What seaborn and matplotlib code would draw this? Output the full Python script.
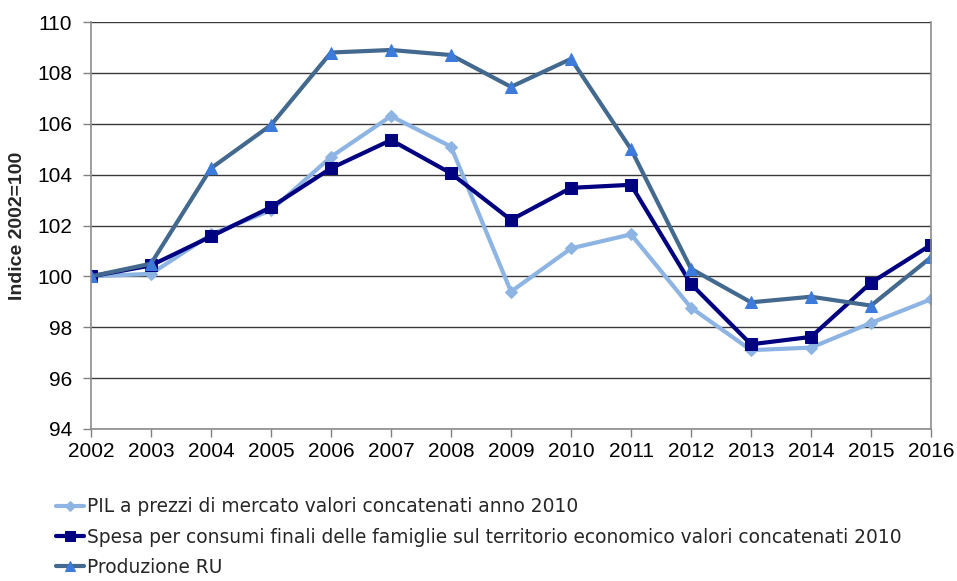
import matplotlib
matplotlib.use("Agg")
import matplotlib.pyplot as plt
import seaborn as sns
import pandas as pd

years = list(range(2002, 2017))
pil = [100.0, 100.1, 101.65, 102.6, 104.7, 106.3, 105.1, 99.4, 101.1, 101.65,
       98.77, 97.1, 97.2, 98.17, 99.1]
spesa = [100.0, 100.43, 101.57, 102.72, 104.25, 105.36, 104.05, 102.22, 103.48, 103.6,
         99.7, 97.33, 97.62, 99.75, 101.24]
produzione = [100.0, 100.5, 104.25, 105.95, 108.8, 108.9, 108.7, 107.45, 108.55, 105.0,
              100.3, 98.98, 99.2, 98.85, 100.75]

labels = [
    "PIL a prezzi di mercato valori concatenati anno 2010",
    "Spesa per consumi finali delle famiglie sul territorio economico valori concatenati 2010",
    "Produzione RU",
]

df = pd.DataFrame({
    "anno": years * 3,
    "valore": pil + spesa + produzione,
    "serie": [labels[0]] * 15 + [labels[1]] * 15 + [labels[2]] * 15,
})

sns.set_theme(style="white")
plt.rcParams["font.family"] = ["Liberation Sans", "DejaVu Sans"]

fig = plt.figure(figsize=(9.57, 5.81), dpi=100)
ax = fig.add_axes([91 / 957, 1 - 429 / 581, (931 - 91) / 957, (429 - 22) / 581])

styles = {
    labels[0]: dict(color="#8DB4E2", marker="D", markersize=6, mfc="#8DB4E2", mec="#8DB4E2", lw=3),
    labels[1]: dict(color="#000080", marker="s", markersize=9, mfc="#000080", mec="#000080", lw=3),
    labels[2]: dict(color="#43698E", marker="^", markersize=9, mfc="#3C7BDC", mec="#3C7BDC", lw=3),
}

for name in labels:
    sub = df[df["serie"] == name]
    st = styles[name]
    sns.lineplot(data=sub, x="anno", y="valore", ax=ax, color=st["color"],
                 linewidth=st["lw"], marker=st["marker"], markersize=st["markersize"],
                 markerfacecolor=st["mfc"], markeredgecolor=st["mec"], label=name,
                 legend=False)

ax.set_xlim(2002, 2016)
ax.set_ylim(94, 110)
ax.set_xticks(years)
ax.set_xticklabels([str(y) for y in years])
ax.set_yticks(range(94, 111, 2))
ax.tick_params(axis="both", labelsize=15, colors="#000000", length=5.5, width=1,
               direction="out", bottom=True, left=True, color="#808080")
ax.tick_params(axis="x", pad=4)
ax.tick_params(axis="y", pad=8)
ax.grid(axis="y", color="#3a3a3a", linewidth=1)
ax.set_axisbelow(True)
for side in ["left", "bottom", "right"]:
    ax.spines[side].set_color("#8c8c8c")
    ax.spines[side].set_linewidth(1.2)
ax.spines["top"].set_visible(False)

ax.set_xlabel("")
ax.set_ylabel("Indice 2002=100", fontsize=14, fontweight="bold", labelpad=8)

handles, lbls = ax.get_legend_handles_labels()
fig.legend(handles, lbls, loc="upper left", bbox_to_anchor=(49 / 957, 1 - 490 / 581),
           frameon=False, prop={"family": "DejaVu Sans", "size": 13.4},
           handlelength=1.5, handletextpad=0.16,
           labelspacing=0.6, borderaxespad=0, markerscale=0.8)

fig.savefig("out.png", dpi=100, facecolor="white")
